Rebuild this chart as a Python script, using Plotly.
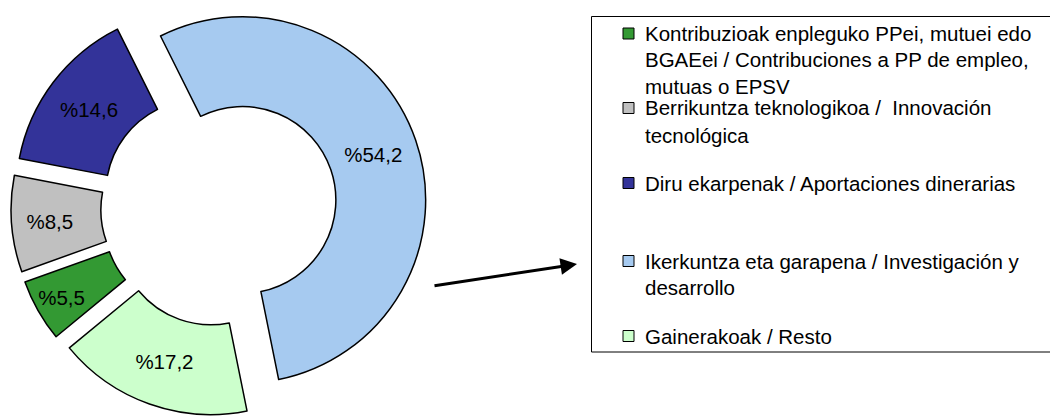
import plotly.graph_objects as go

# --- data (legend order; pie is drawn clockwise in this order) ---
labels = [
    "Kontribuzioak enpleguko PPei, mutuei edo BGAEei / Contribuciones a PP de empleo, mutuas o EPSV",
    "Berrikuntza teknologikoa /  Innovación tecnológica",
    "Diru ekarpenak / Aportaciones dinerarias",
    "Ikerkuntza eta garapena / Investigación y desarrollo",
    "Gainerakoak / Resto",
]
legend_lines = [
    ["Kontribuzioak enpleguko PPei, mutuei edo", "BGAEei / Contribuciones a PP de empleo,", "mutuas o EPSV"],
    ["Berrikuntza teknologikoa /  Innovación", "tecnológica"],
    ["Diru ekarpenak / Aportaciones dinerarias"],
    ["Ikerkuntza eta garapena / Investigación y", "desarrollo"],
    ["Gainerakoak / Resto"],
]
values = [5.5, 8.5, 14.6, 54.2, 17.2]
colors = ["#339933", "#C0C0C0", "#333399", "#A6CAF0", "#CCFFCC"]

W, H = 1050, 416
FONT = "Liberation Sans, Arial, sans-serif"


def px(x):
    return x / W


def py(y):
    return 1 - y / H


slice_text = ["%" + f"{v:.1f}".replace(".", ",") for v in values]

fig = go.Figure()
fig.add_trace(go.Pie(
    labels=labels, values=values, text=slice_text,
    textinfo="text", textposition="inside", insidetextorientation="horizontal",
    textfont=dict(family=FONT, size=20.5, color="black"),
    marker=dict(colors=colors, line=dict(color="black", width=1.5)),
    hole=0.51, pull=0.135, sort=False, direction="clockwise", rotation=230.5,
    domain=dict(x=[px(219 - 208), px(219 + 208)], y=[0, 1]),
    showlegend=False, hoverinfo="label+value",
))

# --- hand-drawn legend box (entries spaced like the original) ---
shapes = [dict(type="rect", xref="paper", yref="paper",
               x0=px(591.5), x1=px(1065), y0=py(16.5), y1=py(352),
               line=dict(color="black", width=1), fillcolor="rgba(0,0,0,0)")]
annotations = []
marker_y = [33.5, 108, 183, 261, 336]
line_gap = [26.5, 27, 0, 26, 0]
for i, lines in enumerate(legend_lines):
    y0 = marker_y[i]
    shapes.append(dict(type="rect", xref="paper", yref="paper",
                       x0=px(623), x1=px(634), y0=py(y0 - 5.5), y1=py(y0 + 5.5),
                       line=dict(color="black", width=1), fillcolor=colors[i]))
    for j, t in enumerate(lines):
        annotations.append(dict(
            text=t, xref="paper", yref="paper", x=px(643), y=py(y0 + j * line_gap[i]),
            xanchor="left", yanchor="middle", showarrow=False,
            font=dict(family=FONT, size=20.5, color="black"),
        ))

# arrow pointing to the legend
annotations.append(dict(
    text="", xref="paper", yref="paper", x=px(577), y=py(264),
    ax=433 - 577, ay=286 - 264, showarrow=True,
    arrowhead=2, arrowsize=1.1, arrowwidth=3, arrowcolor="black", standoff=0,
))

fig.update_layout(
    width=W, height=H,
    margin=dict(l=0, r=0, t=0, b=0),
    paper_bgcolor="white", plot_bgcolor="white",
    shapes=shapes, annotations=annotations,
)

fig.write_html("out.html", config={"displayModeBar": False},
               post_script="document.body.style.margin='0';")
